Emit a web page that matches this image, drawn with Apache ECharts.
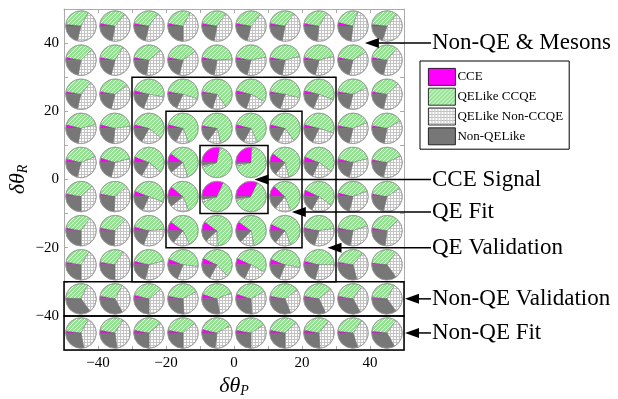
<!DOCTYPE html>
<html>
<head>
<meta charset="utf-8">
<script src="https://cdn.jsdelivr.net/npm/echarts@6/dist/echarts.min.js"></script>
<style>html,body{margin:0;padding:0;background:#fff}#main{width:618px;height:399px}</style>
</head>
<body>
<div id="main"></div>
<script>
// pie centres
const thetaP = [-45, -35, -25, -15, -5, 5, 15, 25, 35, 45];
const thetaR = [45, 35, 25, 15, 5, -5, -15, -25, -35, -45];
const tickValues = [-40, -20, 0, 20, 40];

const categories = ['CCE', 'QELike CCQE', 'QELike Non-CCQE', 'Non-QELike'];

// sample fractions (%) - rows go from dThetaR = 45 down to -45
const cce = [
  [2, 3, 3, 3, 3, 3, 3, 3, 4, 2],
  [3, 3, 3, 3, 3, 3, 3, 3, 3, 3],
  [3, 3, 4, 3, 3, 4, 3, 4, 3, 3],
  [4, 4, 4, 4, 3, 4, 4, 4, 3, 3],
  [4, 5, 6, 10, 28, 26, 10, 6, 4, 3],
  [3, 3, 6, 11, 32, 32, 12, 7, 4, 3],
  [3, 3, 4, 10, 10, 10, 7, 3, 3, 3],
  [3, 3, 4, 6, 7, 7, 6, 4, 3, 2],
  [1, 3, 4, 3, 5, 5, 3, 3, 3, 2],
  [2, 3, 3, 3, 4, 3, 3, 3, 2, 2]
];
const qeLikeCcqe = [
  [31, 33, 32, 30, 32, 33, 32, 31, 26, 34],
  [35, 31, 36, 37, 46, 44, 43, 43, 38, 33],
  [33, 37, 49, 52, 62, 54, 51, 52, 40, 35],
  [42, 44, 57, 65, 68, 64, 61, 51, 41, 39],
  [40, 41, 55, 60, 67, 70, 61, 54, 42, 40],
  [35, 36, 50, 58, 62, 64, 57, 53, 40, 38],
  [32, 34, 45, 58, 64, 62, 62, 45, 42, 35],
  [31, 31, 42, 46, 56, 51, 47, 46, 33, 33],
  [31, 30, 35, 39, 39, 37, 37, 36, 32, 31],
  [31, 31, 36, 36, 38, 38, 35, 33, 33, 33]
];
const qeLikeNonCcqe = [
  [46, 42, 44, 42, 43, 43, 43, 43, 47, 44],
  [40, 45, 39, 39, 29, 32, 32, 33, 38, 43],
  [43, 39, 28, 27, 15, 22, 26, 25, 36, 41],
  [32, 29, 22, 14, 14, 15, 18, 27, 35, 36],
  [35, 33, 22, 19, 2, 2, 15, 22, 33, 36],
  [37, 37, 26, 20, 3, 2, 17, 23, 35, 38],
  [40, 39, 32, 18, 14, 15, 17, 32, 33, 39],
  [41, 41, 33, 29, 20, 24, 28, 29, 35, 30],
  [33, 34, 36, 32, 28, 32, 29, 29, 32, 32],
  [39, 39, 36, 36, 35, 34, 37, 38, 35, 32]
];
const nonQeLike = [
  [21, 22, 21, 25, 22, 21, 22, 23, 23, 20],
  [22, 21, 22, 21, 22, 21, 22, 21, 21, 21],
  [21, 21, 19, 18, 20, 20, 20, 19, 21, 21],
  [22, 23, 17, 17, 15, 17, 17, 18, 21, 22],
  [21, 21, 17, 11, 3, 2, 14, 18, 21, 21],
  [25, 24, 18, 11, 3, 2, 14, 17, 21, 21],
  [25, 24, 19, 14, 12, 13, 14, 20, 22, 23],
  [25, 25, 21, 19, 17, 18, 19, 21, 29, 35],
  [35, 33, 25, 26, 28, 26, 31, 32, 33, 35],
  [28, 27, 25, 25, 23, 25, 25, 26, 30, 33]
];

// region boxes [xmin, xmax, ymin, ymax]
const regionNames = ['CCE Signal', 'QE Fit', 'QE Validation', 'Non-QE Validation', 'Non-QE Fit'];
const regionBounds = [
  [-10, 10, -10, 10],
  [-20, 20, -20, 20],
  [-30, 30, -30, 30],
  [-50, 50, -40, -30],
  [-50, 50, -50, -40]
];

// annotation labels and where their arrows point
const labelNames = ['Non-QE & Mesons', 'CCE Signal', 'QE Fit', 'QE Validation', 'Non-QE Validation', 'Non-QE Fit'];
const labelTipX = [38.5, 6, 17, 27.5, 50.3, 50.3];
const labelTipY = [40, 0, -9.5, -20, -35, -45];

function makePattern(kind) {
  const c = document.createElement('canvas');
  const g = c.getContext('2d');
  if (kind === 'hatch') {
    c.width = 4; c.height = 4;
    g.fillStyle = '#92e292';
    g.fillRect(0, 0, 4, 4);
    g.strokeStyle = '#ffffff';
    g.lineWidth = 0.9;
    g.beginPath();
    g.moveTo(-1, 5); g.lineTo(5, -1);
    g.moveTo(-1, 1); g.lineTo(1, -1);
    g.moveTo(3, 5); g.lineTo(5, 3);
    g.stroke();
  } else {
    c.width = 3; c.height = 3;
    g.fillStyle = '#ffffff';
    g.fillRect(0, 0, 3, 3);
    g.fillStyle = '#c4c4c4';
    g.fillRect(0, 0, 3, 1);
    g.fillRect(0, 0, 1, 3);
  }
  return { image: c, repeat: 'repeat' };
}

const fills = ['#ff00ff', makePattern('hatch'), makePattern('grid'), '#777777'];
const serif = '"Liberation Serif", "Times New Roman", serif';

const pieData = [];
thetaR.forEach((r, i) => {
  thetaP.forEach((p, j) => {
    pieData.push([p, r, cce[i][j], qeLikeCcqe[i][j], qeLikeNonCcqe[i][j], nonQeLike[i][j]]);
  });
});

function renderPie(params, api) {
  const c = api.coord([api.value(0), api.value(1)]);
  const r = api.size([1, 1])[0] * 4.5;
  const parts = [2, 3, 4, 5].map(k => api.value(k));
  const total = parts.reduce((s, v) => s + v, 0);
  let a = Math.PI; // start at 9 o'clock, go clockwise
  const children = parts.map((v, k) => {
    const b = a + v / total * Math.PI * 2;
    const el = {
      type: 'sector',
      shape: { cx: c[0], cy: c[1], r0: 0, r: r, startAngle: a, endAngle: b, clockwise: true },
      style: { fill: fills[k], stroke: '#666', lineWidth: 0.4 }
    };
    a = b;
    return el;
  });
  children.push({
    type: 'circle',
    shape: { cx: c[0], cy: c[1], r: r },
    style: { fill: 'none', stroke: '#999', lineWidth: 0.8 }
  });
  return { type: 'group', children: children };
}

function renderBox(params, api) {
  const p0 = api.coord([api.value(0), api.value(3)]);
  const p1 = api.coord([api.value(1), api.value(2)]);
  return {
    type: 'rect',
    shape: { x: p0[0], y: p0[1], width: p1[0] - p0[0], height: p1[1] - p0[1] },
    style: { fill: 'none', stroke: '#000', lineWidth: 1.5 }
  };
}

function renderLabel(params, api) {
  const tip = api.coord([api.value(0), api.value(1)]);
  const right = api.coord([50, 0])[0];
  const textX = right + 28;
  const name = labelNames[api.value(2)];
  return {
    type: 'group',
    children: [
      {
        type: 'line',
        shape: { x1: tip[0] + 8, y1: tip[1], x2: textX - 1, y2: tip[1] },
        style: { stroke: '#000', lineWidth: 1.5 }
      },
      {
        type: 'polygon',
        shape: { points: [[tip[0], tip[1]], [tip[0] + 14, tip[1] - 5], [tip[0] + 14, tip[1] + 5]] },
        style: { fill: '#000' }
      },
      {
        type: 'text',
        style: { text: name, x: textX, y: tip[1], verticalAlign: 'middle', align: 'left', fill: '#000', font: '23px ' + serif }
      }
    ]
  };
}

const minus = v => (v < 0 ? '\u2212' + Math.abs(v) : String(v));

const axisCommon = {
  type: 'value', min: -50, max: 50, interval: 10,
  axisLine: { onZero: false, lineStyle: { color: '#aaa' } },
  axisTick: { inside: true, length: 4, lineStyle: { color: '#aaa' } },
  splitLine: { show: false }
};
const nameRich = {
  i: { fontFamily: serif, fontStyle: 'italic', fontSize: 22, color: '#000' },
  s: { fontFamily: serif, fontStyle: 'italic', fontSize: 14, color: '#000', padding: [10, 0, 0, 0] }
};

const chart = echarts.init(document.getElementById('main'));
chart.setOption({
  animation: false,
  backgroundColor: '#fff',
  grid: { left: 64, right: 214, top: 9, bottom: 49, outerBoundsMode: 'none', containLabel: false },
  legend: {
    orient: 'vertical',
    left: 420,
    top: 61,
    padding: [7, 6, 4, 8],
    borderColor: '#000',
    borderWidth: 1,
    backgroundColor: '#fff',
    icon: 'rect',
    itemWidth: 27,
    itemHeight: 17,
    itemGap: 2,
    itemStyle: { borderColor: '#000', borderWidth: 0.8 },
    textStyle: { fontFamily: serif, fontSize: 13, color: '#000', padding: [0, 0, 0, -3] },
    data: categories
  },
  xAxis: [
    Object.assign({}, axisCommon, {
      name: '{i|\u03b4\u03b8}{s|P}',
      nameLocation: 'middle',
      nameGap: 24,
      nameMoveOverlap: false,
      nameTextStyle: { rich: nameRich },
      axisLabel: {
        customValues: tickValues, formatter: minus, margin: 6,
        fontFamily: serif, fontSize: 15, color: '#000'
      }
    }),
    Object.assign({}, axisCommon, { position: 'top', axisLabel: { show: false } })
  ],
  yAxis: [
    Object.assign({}, axisCommon, {
      name: '{i|\u03b4\u03b8}{s|R}',
      nameLocation: 'middle',
      nameRotate: 90,
      nameGap: 34,
      nameMoveOverlap: false,
      nameTextStyle: { rich: nameRich },
      axisLabel: {
        customValues: tickValues, formatter: minus, margin: 5,
        fontFamily: serif, fontSize: 15, color: '#000'
      }
    }),
    Object.assign({}, axisCommon, { position: 'right', axisLabel: { show: false } })
  ],
  series: [
    {
      type: 'custom',
      name: 'pies',
      renderItem: renderPie,
      data: pieData,
      silent: true
    },
    {
      type: 'custom',
      name: 'regions',
      renderItem: renderBox,
      data: regionBounds,
      clip: false,
      silent: true,
      z: 5
    },
    {
      type: 'custom',
      name: 'labels',
      renderItem: renderLabel,
      data: labelTipX.map((x, i) => [x, labelTipY[i], i]),
      clip: false,
      silent: true,
      z: 6
    }
  ].concat(categories.map((name, k) => ({
    type: 'bar',
    name: name,
    data: [],
    itemStyle: { color: fills[k] }
  })))
});
</script>
</body>
</html>
